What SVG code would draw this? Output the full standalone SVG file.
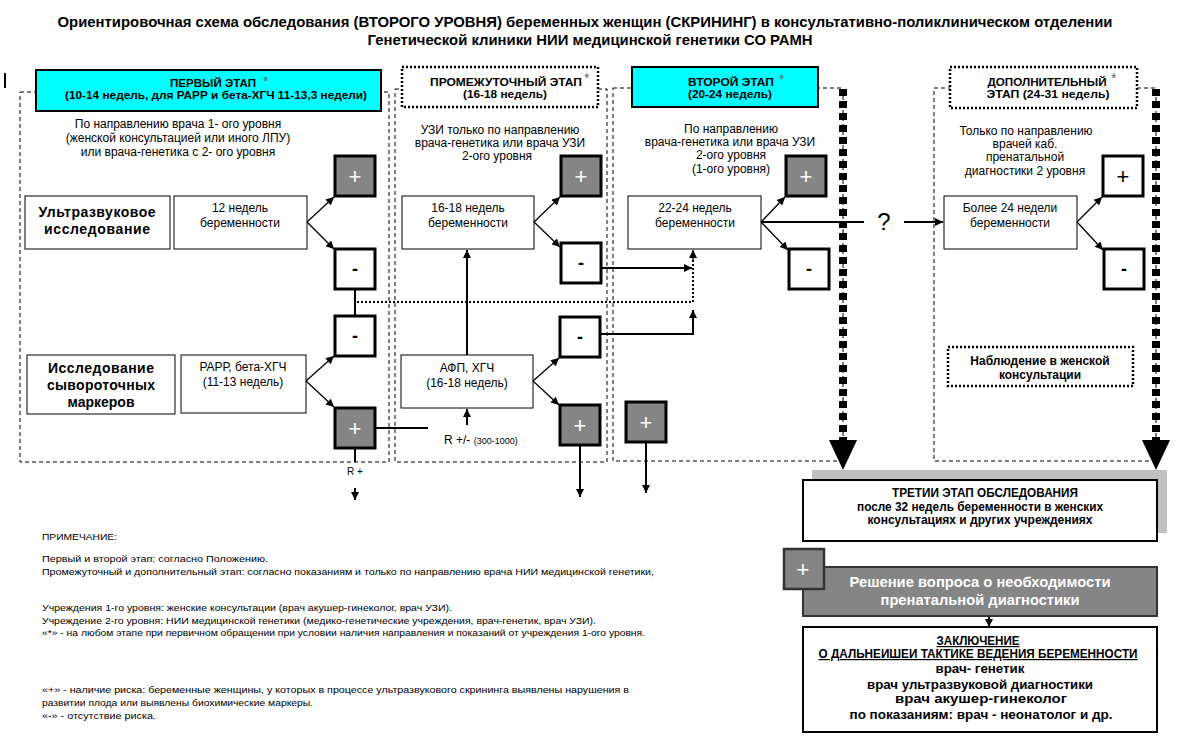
<svg xmlns="http://www.w3.org/2000/svg" width="1182" height="750" viewBox="0 0 1182 750">
<defs>
<marker id="ah" viewBox="0 0 10 10" refX="10" refY="5" markerWidth="9" markerHeight="8" markerUnits="userSpaceOnUse" orient="auto">
<path d="M0,0 L10,5 L0,10 z" fill="#000"/>
</marker>
<style>
text{font-family:"Liberation Sans",Arial,sans-serif;fill:#000}
.t12{font-size:12px}
.t10{font-size:9.5px}
.b14{font-size:14px;font-weight:bold}
.b12{font-size:12px;font-weight:bold}
.b11{font-size:11px;font-weight:bold}
.ast{font-size:14px;fill:#666}
.c{text-anchor:middle}
.dash{fill:none;stroke:#000;stroke-width:1;stroke-dasharray:4 3}
.box{fill:#fff;stroke:#000;stroke-width:1}
.pbox{fill:#858585;stroke:#000;stroke-width:3}
.mbox{fill:#fff;stroke:#000;stroke-width:3}
.cyan{fill:#00ffff;stroke:#000;stroke-width:2}
.dot{fill:#fff;stroke:#000;stroke-width:2.5;stroke-dasharray:2 2}
.pl{font-size:22px;fill:#fff;text-anchor:middle}
.plb{font-size:22px;fill:#000;text-anchor:middle}
.mi{font-size:18px;font-weight:bold;text-anchor:middle}
.ln{fill:none;stroke:#000;stroke-width:2}
.lt{fill:none;stroke:#000;stroke-width:1.3}
.dl{fill:none;stroke:#000;stroke-width:2;stroke-dasharray:2 2}
.thick{fill:none;stroke:#000;stroke-width:8;stroke-dasharray:7 5}
</style>
</defs>
<rect width="1182" height="750" fill="#fff"/>

<g id="title">
<text class="c" x="585" y="27" style="font-size:15px;font-weight:bold" textLength="1055" lengthAdjust="spacingAndGlyphs">Ориентировочная схема обследования (ВТОРОГО УРОВНЯ) беременных женщин (СКРИНИНГ) в консультативно-поликлиническом отделении</text>
<text class="c" x="590" y="45" style="font-size:15px;font-weight:bold" textLength="445" lengthAdjust="spacingAndGlyphs">Генетической клиники НИИ медицинской генетики СО РАМН</text>
</g>
<rect x="4" y="73" width="2" height="15" fill="#000"/>

<g id="stage-regions">
<rect class="dash" x="20" y="92" width="369" height="370"/>
<rect class="dash" x="395" y="89" width="212" height="373"/>
<rect class="dash" x="613" y="88" width="230" height="373"/>
<rect class="dash" x="934" y="88" width="222" height="373"/>
</g>

<g id="stage1-header">
<rect class="cyan" x="36" y="70" width="345" height="41"/>
<text class="b11 c" x="213" y="87" textLength="86" lengthAdjust="spacingAndGlyphs">ПЕРВЫЙ ЭТАП</text>
<text class="ast" x="263" y="86">*</text>
<text class="b11 c" x="216" y="99" textLength="302" lengthAdjust="spacingAndGlyphs">(10-14 недель, для РАРР и бета-ХГЧ 11-13,3 недели)</text>
</g>
<g id="stage1-note">
<text class="t12 c" x="178" y="128">По направлению врача 1- ого уровня</text>
<text class="t12 c" x="178" y="142">(женской консультацией или иного ЛПУ)</text>
<text class="t12 c" x="178" y="156">или врача-генетика с 2- ого уровня</text>
</g>

<g id="stage2-header">
<rect class="dot" x="402" y="67" width="196" height="40"/>
<text class="b11 c" x="506" y="86" textLength="152" lengthAdjust="spacingAndGlyphs">ПРОМЕЖУТОЧНЫЙ ЭТАП</text>
<text class="ast" x="584" y="83">*</text>
<text class="b11 c" x="505" y="98" textLength="84" lengthAdjust="spacingAndGlyphs">(16-18 недель)</text>
</g>
<g id="stage2-note">
<text class="t12 c" x="500" y="134">УЗИ только по направлению</text>
<text class="t12 c" x="500" y="147">врача-генетика или врача  УЗИ</text>
<text class="t12 c" x="497" y="160">2-ого уровня</text>
</g>

<g id="stage3-header">
<rect class="cyan" x="632" y="67" width="186" height="40"/>
<text class="b11 c" x="731" y="86" textLength="86" lengthAdjust="spacingAndGlyphs">ВТОРОЙ ЭТАП</text>
<text class="ast" x="779" y="84">*</text>
<text class="b11 c" x="730" y="98" textLength="84" lengthAdjust="spacingAndGlyphs">(20-24 недель)</text>
</g>
<g id="stage3-note">
<text class="t12 c" x="731" y="133">По направлению</text>
<text class="t12 c" x="730" y="146">врача-генетика или врача УЗИ</text>
<text class="t12 c" x="731" y="159">2-ого уровня</text>
<text class="t12 c" x="731" y="173">(1-ого уровня)</text>
</g>

<g id="stage4-header">
<rect class="dot" x="950" y="67" width="187" height="41"/>
<text class="b11 c" x="1047" y="86" textLength="119" lengthAdjust="spacingAndGlyphs">ДОПОЛНИТЕЛЬНЫЙ</text>
<text class="ast" x="1111" y="83">*</text>
<text class="b11 c" x="1048" y="98" textLength="123" lengthAdjust="spacingAndGlyphs">ЭТАП  (24-31 недель)</text>
</g>
<g id="stage4-note">
<text class="t12 c" x="1026" y="135">Только по направлению</text>
<text class="t12 c" x="1025" y="148">врачей каб.</text>
<text class="t12 c" x="1025" y="161">пренатальной</text>
<text class="t12 c" x="1025" y="175">диагностики 2 уровня</text>
</g>

<g id="us-label"><rect class="box" x="25" y="196" width="145" height="53"/>
<text class="b14 c" x="97" y="217" textLength="117" lengthAdjust="spacing">Ультразвуковое</text><text class="b14 c" x="97" y="234" textLength="106" lengthAdjust="spacing">исследование</text></g>
<g id="us-12"><rect class="box" x="174" y="196" width="133" height="53"/>
<text class="t12 c" x="240" y="212">12 недель</text><text class="t12 c" x="240" y="227">беременности</text></g>
<g id="s1-plus-us"><rect class="pbox" x="335" y="156" width="40" height="40"/><text class="pl" x="355" y="184">+</text></g>
<g id="s1-minus-us"><rect class="mbox" x="335" y="249" width="40" height="40"/><text class="mi" x="355" y="275">-</text></g>
<g id="s1-minus-bio"><rect class="mbox" x="335" y="316" width="40" height="40"/><text class="mi" x="355" y="342">-</text></g>
<g id="bio-label"><rect class="box" x="27" y="355" width="148" height="59"/>
<text class="b14 c" x="101" y="373" textLength="106" lengthAdjust="spacing">Исследование</text><text class="b14 c" x="101" y="390" textLength="108" lengthAdjust="spacing">сывороточных</text><text class="b14 c" x="101" y="407">маркеров</text></g>
<g id="bio-papp"><rect class="box" x="181" y="355" width="125" height="58"/>
<text class="t12 c" x="243" y="371">РАРР, бета-ХГЧ</text><text class="t12 c" x="243" y="386">(11-13 недель)</text></g>
<g id="s1-plus-bio"><rect class="pbox" x="335" y="408" width="40" height="40"/><text class="pl" x="355" y="436">+</text></g>

<g id="us-16"><rect class="box" x="402" y="196" width="132" height="53"/>
<text class="t12 c" x="468" y="212">16-18 недель</text><text class="t12 c" x="468" y="227">беременности</text></g>
<g id="s2-plus-us"><rect class="pbox" x="561" y="156" width="40" height="40"/><text class="pl" x="581" y="184">+</text></g>
<g id="s2-minus-us"><rect class="mbox" x="561" y="243" width="40" height="40"/><text class="mi" x="581" y="269">-</text></g>
<g id="afp"><rect class="box" x="401" y="355" width="132" height="53"/>
<text class="t12 c" x="467" y="372">АФП, ХГЧ</text><text class="t12 c" x="467" y="387">(16-18 недель)</text></g>
<g id="s2-minus-bio"><rect class="mbox" x="560" y="317" width="40" height="40"/><text class="mi" x="580" y="343">-</text></g>
<g id="s2-plus-bio"><rect class="pbox" x="560" y="405" width="40" height="40"/><text class="pl" x="580" y="433">+</text></g>
<g id="r-label"><text class="t12" x="444" y="444">R +/- <tspan style="font-size:9px">(300-1000)</tspan></text></g>

<g id="us-22"><rect class="box" x="628" y="196" width="133" height="53"/>
<text class="t12 c" x="695" y="212">22-24 недель</text><text class="t12 c" x="695" y="227">беременности</text></g>
<g id="s3-plus"><rect class="pbox" x="786" y="156" width="40" height="40"/><text class="pl" x="806" y="184">+</text></g>
<g id="s3-minus"><rect class="mbox" x="789" y="249" width="40" height="40"/><text class="mi" x="809" y="275">-</text></g>
<g id="s3-plus-low"><rect class="pbox" x="626" y="402" width="40" height="40"/><text class="pl" x="646" y="430">+</text></g>

<g id="us-24"><rect class="box" x="944" y="196" width="133" height="53"/>
<text class="t12 c" x="1010" y="212">Более 24 недели</text><text class="t12 c" x="1010" y="227">беременности</text></g>
<g id="s4-plus"><rect class="mbox" x="1103" y="156" width="40" height="40"/><text class="plb" x="1123" y="184">+</text></g>
<g id="s4-minus"><rect class="mbox" x="1104" y="249" width="40" height="40"/><text class="mi" x="1124" y="275">-</text></g>
<g id="observation"><rect class="dot" x="948" y="347" width="185" height="39"/>
<text class="b12 c" x="1040" y="365">Наблюдение в женской</text><text class="b12 c" x="1040" y="379">консультации</text></g>

<g id="question"><text class="c" x="884" y="230" style="font-size:24px">?</text></g>

<g id="connectors">
<line class="lt" x1="307" y1="222" x2="334" y2="197" marker-end="url(#ah)"/>
<line class="lt" x1="307" y1="222" x2="334" y2="249" marker-end="url(#ah)"/>
<line class="lt" x1="306" y1="381" x2="334" y2="356" marker-end="url(#ah)"/>
<line class="lt" x1="306" y1="381" x2="334" y2="407" marker-end="url(#ah)"/>
<line class="ln" x1="355" y1="289" x2="355" y2="316"/>
<polyline class="dl" points="357,302 693,302 693,258"/>
<line class="lt" x1="693" y1="262" x2="693" y2="250" marker-end="url(#ah)"/>
<line class="ln" x1="375" y1="428" x2="428" y2="428"/>
<line class="ln" x1="355" y1="448" x2="355" y2="462"/>
<text class="c" x="355" y="475" style="font-size:10px">R +</text>
<line class="ln" x1="355" y1="488" x2="355" y2="500" marker-end="url(#ah)"/>

<line class="lt" x1="534" y1="222" x2="560" y2="197" marker-end="url(#ah)"/>
<line class="lt" x1="534" y1="222" x2="560" y2="247" marker-end="url(#ah)"/>
<line class="ln" x1="467" y1="355" x2="467" y2="250" marker-end="url(#ah)"/>
<line class="lt" x1="533" y1="381" x2="559" y2="358" marker-end="url(#ah)"/>
<line class="lt" x1="533" y1="381" x2="559" y2="405" marker-end="url(#ah)"/>
<line class="ln" x1="467" y1="425" x2="467" y2="409" marker-end="url(#ah)"/>
<line class="ln" x1="580" y1="445" x2="580" y2="497" marker-end="url(#ah)"/>
<line class="ln" x1="601" y1="268" x2="692" y2="268" marker-end="url(#ah)"/>
<polyline class="ln" points="600,334 693,334 693,310" marker-end="url(#ah)"/>

<line class="lt" x1="761" y1="222" x2="785" y2="197" marker-end="url(#ah)"/>
<line class="lt" x1="761" y1="222" x2="788" y2="250" marker-end="url(#ah)"/>
<line class="ln" x1="761" y1="222" x2="864" y2="222"/>
<line class="ln" x1="904" y1="222" x2="943" y2="222" marker-end="url(#ah)"/>
<line class="ln" x1="646" y1="442" x2="646" y2="493" marker-end="url(#ah)"/>

<line class="lt" x1="1077" y1="222" x2="1102" y2="197" marker-end="url(#ah)"/>
<line class="lt" x1="1077" y1="222" x2="1103" y2="250" marker-end="url(#ah)"/>

<line class="thick" x1="843" y1="89" x2="843" y2="442"/>
<polygon points="829,440 857,440 843,470" fill="#000"/>
<line class="thick" x1="1156" y1="89" x2="1156" y2="442"/>
<polygon points="1142,440 1170,440 1156,470" fill="#000"/>

<line class="ln" x1="989" y1="616" x2="989" y2="627" marker-end="url(#ah)"/>
</g>

<g id="third-stage">
<rect x="812" y="470" width="355" height="63" fill="#c0c0c0"/>
<rect x="803" y="480" width="354" height="61" fill="#fff" stroke="#000" stroke-width="2"/>
<text class="b12 c" x="985" y="497" textLength="186" lengthAdjust="spacingAndGlyphs">ТРЕТИИ ЭТАП ОБСЛЕДОВАНИЯ</text>
<text class="b12 c" x="980" y="511" textLength="246" lengthAdjust="spacingAndGlyphs">после 32 недель беременности в женских</text>
<text class="b12 c" x="980" y="524" textLength="225" lengthAdjust="spacingAndGlyphs">консультациях и других учреждениях</text>
</g>

<g id="decision">
<rect x="803" y="567" width="354" height="49" fill="#858585" stroke="#333" stroke-width="2"/>
<text class="c" x="980" y="587" style="font-size:14px;font-weight:bold;fill:#fff" textLength="261" lengthAdjust="spacingAndGlyphs">Решение вопроса о необходимости</text>
<text class="c" x="980" y="605" style="font-size:14px;font-weight:bold;fill:#fff" textLength="199" lengthAdjust="spacingAndGlyphs">пренатальной диагностики</text>
</g>
<g id="decision-plus"><rect x="784" y="549" width="40" height="40" fill="#858585" stroke="#333" stroke-width="2.5"/><text class="pl" x="803" y="577">+</text></g>

<g id="conclusion">
<rect x="803" y="627" width="354" height="105" fill="#fff" stroke="#000" stroke-width="2"/>
<text class="b12 c" x="978" y="645" text-decoration="underline" textLength="83" lengthAdjust="spacingAndGlyphs">ЗАКЛЮЧЕНИЕ</text>
<text class="b12 c" x="978" y="658" text-decoration="underline" textLength="319" lengthAdjust="spacingAndGlyphs">О ДАЛЬНЕИШЕИ ТАКТИКЕ ВЕДЕНИЯ БЕРЕМЕННОСТИ</text>
<text class="b12 c" x="980" y="673" textLength="89" lengthAdjust="spacingAndGlyphs">врач- генетик</text>
<text class="b12 c" x="980" y="689" textLength="226" lengthAdjust="spacingAndGlyphs">врач ультразвуковой диагностики</text>
<text class="b12 c" x="981" y="703" textLength="172" lengthAdjust="spacingAndGlyphs">врач акушер-гинеколог</text>
<text class="b12 c" x="981" y="719" textLength="263" lengthAdjust="spacingAndGlyphs">по показаниям: врач - неонатолог и др.</text>
</g>

<g id="notes">
<text class="t10" x="42" y="540" textLength="75" lengthAdjust="spacingAndGlyphs">ПРИМЕЧАНИЕ:</text>
<text class="t10" x="42" y="562" textLength="226" lengthAdjust="spacingAndGlyphs">Первый и второй этап: согласно Положению.</text>
<text class="t10" x="42" y="575" textLength="612" lengthAdjust="spacingAndGlyphs">Промежуточный и дополнительный этап: согласно показаниям и только по направлению врача НИИ медицинской генетики,</text>
<text class="t10" x="42" y="611" textLength="410" lengthAdjust="spacingAndGlyphs">Учреждения 1-го уровня: женские консультации (врач акушер-гинеколог, врач УЗИ).</text>
<text class="t10" x="42" y="624" textLength="554" lengthAdjust="spacingAndGlyphs">Учреждение 2-го уровня: НИИ медицинской генетики (медико-генетические учреждения, врач-генетик, врач УЗИ).</text>
<text class="t10" x="42" y="636" textLength="603" lengthAdjust="spacingAndGlyphs">«*» - на любом этапе при первичном обращении при условии наличия направления и показаний от учреждения 1-ого уровня.</text>
<text class="t10" x="42" y="693" textLength="587" lengthAdjust="spacingAndGlyphs">«+» - наличие риска: беременные женщины, у которых в процессе ультразвукового скрининга выявлены нарушения в</text>
<text class="t10" x="42" y="706" textLength="271" lengthAdjust="spacingAndGlyphs">развитии плода или выявлены биохимические маркеры.</text>
<text class="t10" x="42" y="719" textLength="114" lengthAdjust="spacingAndGlyphs">«-» - отсутствие риска.</text>
</g>
</svg>
